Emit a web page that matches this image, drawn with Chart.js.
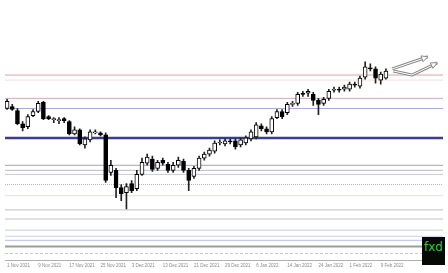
<!DOCTYPE html>
<html>
<head>
<meta charset="utf-8">
<script src="https://cdn.jsdelivr.net/npm/chart.js@4.4.0/dist/chart.umd.min.js"></script>
<style>
  html, body { margin: 0; padding: 0; background: #fff; }
  #wrap { position: relative; width: 448px; height: 273px; }
  #logo {
    position: absolute; left: 422px; top: 237px; width: 23px; height: 28px;
    background: #060906; color: #35c635; text-align: center;
    font: 12px "DejaVu Sans", sans-serif; line-height: 20px;
  }
</style>
</head>
<body>
<div id="wrap">
  <canvas id="chart"></canvas>
  <div id="logo">fxd</div>
</div>
<script>
// daily candles, 1 Nov 2021 .. 10 Feb 2022 (index = trading day)
const opens  = [115.0,115.2,114.8,113.5,113.2,114.3,114.7,115.6,114.2,113.9,113.8,114.0,113.7,112.5,112.9,111.4,111.9,112.6,112.6,112.4,
                108.7,108.9,107.2,106.7,107.6,107.1,108.5,109.6,110.0,109.1,109.9,109.5,108.9,109.4,109.8,108.9,108.3,109.1,110.1,110.5,
                110.8,111.6,111.5,111.8,111.8,111.4,111.6,112.0,112.2,113.3,113.0,112.7,114.1,114.7,114.6,115.4,115.5,116.5,116.5,116.4,
                115.8,115.5,116.0,116.8,116.9,116.9,116.9,117.4,117.2,118.1,119.0,118.9,117.8,118.0]
const highs  = [115.9,115.4,115.0,113.7,114.4,114.9,115.7,115.7,114.3,114.1,114.1,114.1,113.8,113.2,113.0,112.2,112.9,112.9,112.7,112.6,
                109.9,109.1,107.5,107.6,107.9,108.9,110.1,110.5,110.3,109.9,110.1,109.7,109.7,110.2,110.0,109.1,109.3,110.3,110.7,111.1,
                111.8,111.9,112.0,112.0,112.0,112.1,112.3,112.9,113.6,113.5,113.2,114.2,114.9,114.9,115.6,115.7,116.6,116.7,116.9,116.6,
                116.0,116.1,116.9,117.1,117.1,117.3,117.6,117.6,118.2,119.6,119.4,119.1,118.6,118.9]
const lows   = [114.9,114.8,113.4,112.8,113.0,114.2,114.6,113.9,113.9,113.6,113.5,113.6,112.4,112.4,111.4,111.1,111.7,112.5,112.3,107.7,
                108.4,106.2,105.9,105.1,106.7,106.9,108.4,109.4,108.8,108.9,109.4,108.7,108.7,109.2,108.7,106.9,108.1,108.9,109.9,110.3,
                110.6,111.4,111.3,111.5,111.0,111.2,111.4,111.8,112.0,112.8,112.5,112.5,114.0,114.0,114.4,115.2,115.3,116.2,116.2,115.3,
                114.4,115.3,115.8,116.6,116.6,116.7,116.7,117.1,117.0,117.9,118.7,117.5,117.4,117.9]
const closes = [115.7,114.9,113.5,113.1,114.2,114.7,115.5,114.0,114.0,114.0,113.9,113.8,112.5,112.9,111.5,112.0,112.7,112.7,112.4,107.9,
                109.4,107.2,106.6,107.3,106.9,108.5,109.7,110.2,109.0,109.7,109.6,108.9,109.4,109.9,108.9,107.9,109.1,110.1,110.5,110.9,
                111.6,111.7,111.8,111.7,111.2,111.9,112.1,112.7,113.4,113.0,112.7,114.0,114.7,114.2,115.4,115.5,116.4,116.4,116.7,115.8,
                115.4,115.9,116.7,116.9,116.8,117.1,117.4,117.3,118.0,119.1,118.9,118.0,118.4,118.7]

const tickDays   = [0, 6, 12, 18, 24, 30, 36, 42, 48, 54, 60, 66, 72]
const tickLabels = ["1 Nov 2021", "9 Nov 2021", "17 Nov 2021", "25 Nov 2021", "3 Dec 2021", "13 Dec 2021", "21 Dec 2021",
                    "29 Dec 2021", "6 Jan 2022", "14 Jan 2022", "24 Jan 2022", "1 Feb 2022", "9 Feb 2022"]

// horizontal support / resistance levels
const levels = [118.3, 117.8, 116.0, 115.0, 112.1, 109.4, 108.9, 108.5, 107.5, 106.4, 105.0, 104.1, 103.0, 102.4, 102.0, 101.4, 100.7]
const levelStyles = [
  { color: "#e2a2a2", width: 1 }, { color: "#f1dede", width: 1 }, { color: "#d4a8b8", width: 1 },
  { color: "#a9a9dc", width: 1 }, { color: "#3b3b9a", width: 2.5 }, { color: "#a3a3c8", width: 1 },
  { color: "#bcbcc8", width: 1 }, { color: "#cacad2", width: 1 }, { color: "#b4b4b4", width: 1, dash: [1, 1] },
  { color: "#ecdcce", width: 1 }, { color: "#bcc0bc", width: 1 }, { color: "#c4c4cc", width: 1 },
  { color: "#c6ccdc", width: 1 }, { color: "#cdcdee", width: 1 }, { color: "#babaea", width: 1 },
  { color: "#94a094", width: 2 }, { color: "#f0b8b8", width: 1, dash: [3, 2] },
]

// hand drawn arrows (day index, price)
const arrows = [
  [[74.2, 118.9], [81.1, 120.1]],
  [[74.4, 118.7], [78.0, 118.3], [82.9, 119.5]],
]

const xMin = -0.4
const xMax = 84

const bodies = opens.map((o, i) => ({ x: i, y: [o, closes[i]] }))
const wicks = lows.map((l, i) => ({ x: i, y: [l, highs[i]] }))
const bodyColors = opens.map((o, i) => (closes[i] >= o ? "#ffffff" : "#000000"))

const levelSets = levels.map((lv, i) => ({
  type: "line",
  data: [{ x: xMin, y: lv }, { x: xMax, y: lv }],
  borderColor: levelStyles[i].color,
  borderWidth: levelStyles[i].width,
  borderDash: levelStyles[i].dash || [],
  pointRadius: 0,
  order: 3,
}))

const arrowPlugin = {
  id: "arrows",
  afterDatasetsDraw(chart) {
    const { ctx, scales } = chart
    ctx.save()
    ctx.lineJoin = "round"
    arrows.forEach((path) => {
      const pts = path.map(([d, p]) => [scales.x.getPixelForValue(d), scales.y.getPixelForValue(p)])
      const [ax, ay] = pts[pts.length - 2]
      const [bx, by] = pts[pts.length - 1]
      const ang = Math.atan2(by - ay, bx - ax)
      const head = [
        [bx, by],
        [bx - 7 * Math.cos(ang - 0.45), by - 7 * Math.sin(ang - 0.45)],
        [bx - 7 * Math.cos(ang + 0.45), by - 7 * Math.sin(ang + 0.45)],
      ]
      // outline then inner white line -> hollow look
      ;[["#8a8a8a", 3], ["#ffffff", 1]].forEach(([c, w]) => {
        ctx.strokeStyle = c
        ctx.lineWidth = w
        ctx.beginPath()
        pts.forEach(([px, py], k) => (k ? ctx.lineTo(px, py) : ctx.moveTo(px, py)))
        ctx.stroke()
      })
      ctx.fillStyle = "#ffffff"
      ctx.strokeStyle = "#8a8a8a"
      ctx.lineWidth = 1
      ctx.beginPath()
      head.forEach(([px, py], k) => (k ? ctx.lineTo(px, py) : ctx.moveTo(px, py)))
      ctx.closePath()
      ctx.fill()
      ctx.stroke()
    })
    ctx.restore()
  },
}

new Chart(document.getElementById("chart"), {
  type: "bar",
  data: {
    datasets: [
      {
        data: bodies,
        backgroundColor: bodyColors,
        borderColor: "#000",
        borderWidth: 1,
        borderSkipped: false,
        barThickness: 4,
        grouped: false,
        order: 1,
      },
      {
        data: wicks,
        backgroundColor: "#222",
        barThickness: 1,
        grouped: false,
        order: 2,
      },
      ...levelSets,
    ],
  },
  options: {
    responsive: true,
    maintainAspectRatio: false,
    animation: false,
    layout: { padding: { left: 5, right: 5, top: 0, bottom: 3 } },
    plugins: { legend: { display: false }, tooltip: { enabled: false } },
    scales: {
      x: {
        type: "linear",
        offset: false,
        min: xMin,
        max: xMax,
        afterBuildTicks: (axis) => {
          axis.ticks = tickDays.map((v) => ({ value: v }))
        },
        grid: { display: false, drawTicks: false, offset: false },
        border: { display: true, color: "#b0b0b0", width: 1 },
        ticks: {
          autoSkip: false,
          maxRotation: 0,
          align: "start",
          padding: 2,
          color: "#8a8a8a",
          font: { family: "'Liberation Sans', Arial, sans-serif", size: 4.5 },
          callback: (v) => tickLabels[tickDays.indexOf(v)] || "",
        },
      },
      y: { display: false, min: 100, max: 125.7 },
    },
  },
  plugins: [arrowPlugin],
})
</script>
</body>
</html>
